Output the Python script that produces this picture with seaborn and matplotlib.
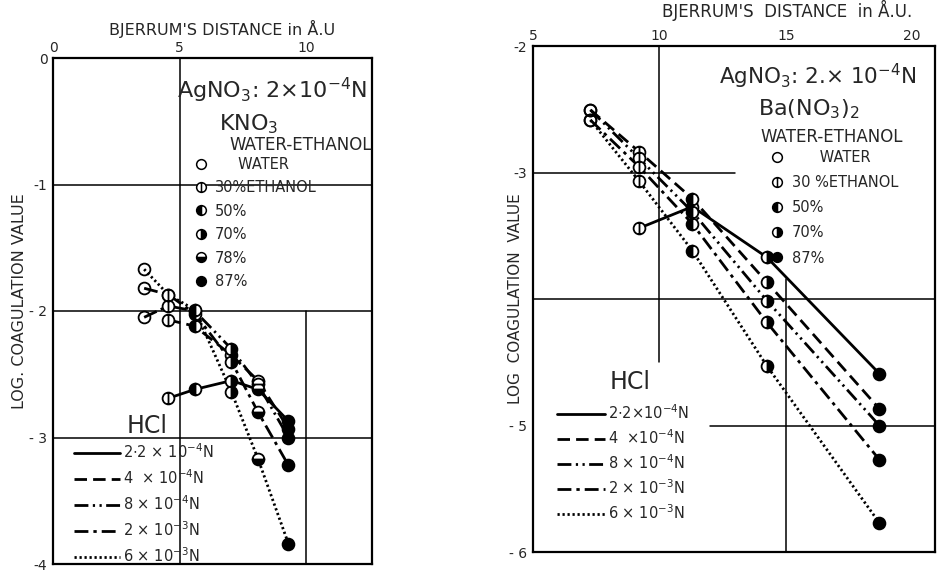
import numpy as np
import pandas as pd
import matplotlib
matplotlib.use("Agg")
import matplotlib.pyplot as plt
import seaborn as sns
from matplotlib.path import Path
from matplotlib.lines import Line2D

# ---------------- data ----------------
ethanol = ["WATER", "30%", "50%", "70%", "78%", "87%"]

# Left panel: AgNO3 2e-4 N, KNO3
kno3_x = [3.6, 4.55, 5.6, 7.05, 8.1, 9.3]
kno3_hcl_2_2e4 = [np.nan, -2.69, -2.62, -2.55, -2.62, -2.87]
kno3_hcl_4e4 = [np.nan, -2.07, -2.12, -2.35, -2.55, -2.93]
kno3_hcl_8e4 = [-2.05, -1.96, -2.00, -2.30, -2.58, -3.00]
kno3_hcl_2e3 = [-1.82, -1.87, -2.02, -2.40, -2.80, -3.22]
kno3_hcl_6e3 = [-1.67, -1.87, -1.99, -2.64, -3.17, -3.84]

# Right panel: AgNO3 2e-4 N, Ba(NO3)2
ba_ethanol = ["WATER", "30%", "50%", "70%", "87%"]
ba_x = [7.27, 9.2, 11.3, 14.25, 18.7]
ba_hcl_2_2e4 = [np.nan, -3.44, -3.27, -3.67, -4.59]
ba_hcl_4e4 = [-2.505, -2.836, -3.206, -3.867, -4.868]
ba_hcl_8e4 = [-2.505, -2.889, -3.31, -4.013, -5.00]
ba_hcl_2e3 = [-2.585, -2.955, -3.405, -4.185, -5.27]
ba_hcl_6e3 = [-2.585, -3.069, -3.617, -4.529, -5.77]

hcl_names = ["2.2e-4", "4e-4", "8e-4", "2e-3", "6e-3"]
hcl_labels_left = [r"2$\cdot$2 $\times$ 10$^{-4}$N", r"4  $\times$ 10$^{-4}$N",
                   r"8 $\times$ 10$^{-4}$N", r"2 $\times$ 10$^{-3}$N",
                   r"6 $\times$ 10$^{-3}$N"]
hcl_labels_right = [r"2$\cdot$2$\times$10$^{-4}$N", r"4  $\times$10$^{-4}$N",
                    r"8 $\times$ 10$^{-4}$N", r"2 $\times$ 10$^{-3}$N",
                    r"6 $\times$ 10$^{-3}$N"]

left_xticks = [0, 5, 10]
left_yticks = [0, -1, -2, -3, -4]
left_yticklabels = ["0", "-1", "- 2", "- 3", "-4"]
right_xticks = [5, 10, 15, 20]
right_yticks = [-2, -3, -4, -5, -6]
right_yticklabels = ["-2", "-3", "", "- 5", "- 6"]

# ---------------- styles ----------------
dashes = {"2.2e-4": "", "4e-4": (4.5, 2.2), "8e-4": (5, 1.6, 0.8, 1.6, 0.8, 1.6),
          "2e-3": (5, 1.8, 1.2, 1.8), "6e-3": (0.8, 1.0)}
ls_map = {"2.2e-4": "-", "4e-4": (0, (4.5, 2.2)), "8e-4": (0, (5, 1.6, 0.8, 1.6, 0.8, 1.6)),
          "2e-3": (0, (5, 1.8, 1.2, 1.8)), "6e-3": (0, (0.8, 1.0))}

circ = Path.unit_circle()
phi_path = Path(np.vstack([circ.vertices, [[0, -1], [0, 1]]]),
                np.concatenate([circ.codes, [Path.MOVETO, Path.LINETO]]))
marker_style = {
    "WATER": dict(marker="o", fillstyle="none", markerfacecolor="white"),
    "30%": dict(marker=phi_path, fillstyle="full", markerfacecolor="white"),
    "50%": dict(marker="o", fillstyle="left", markerfacecoloralt="white"),
    "70%": dict(marker="o", fillstyle="right", markerfacecoloralt="white"),
    "78%": dict(marker="o", fillstyle="bottom", markerfacecoloralt="white"),
    "87%": dict(marker="o", fillstyle="full"),
}


def long_df(xs, levels, series):
    rows = []
    for name, ys in zip(hcl_names, series):
        for x, lev, y in zip(xs, levels, ys):
            if not np.isnan(y):
                rows.append(dict(x=x, y=y, hcl=name, ethanol=lev))
    return pd.DataFrame(rows)


df_left = long_df(kno3_x, ethanol,
                  [kno3_hcl_2_2e4, kno3_hcl_4e4, kno3_hcl_8e4, kno3_hcl_2e3, kno3_hcl_6e3])
df_right = long_df(ba_x, ba_ethanol,
                   [ba_hcl_2_2e4, ba_hcl_4e4, ba_hcl_8e4, ba_hcl_2e3, ba_hcl_6e3])

sns.set_style("white")
plt.rcParams["font.family"] = ["DejaVu Sans"]

W, H = 943, 573
fig = plt.figure(figsize=(W / 100, H / 100), dpi=100)


def ax_at(l, t, r, b):
    return fig.add_axes([l / W, 1 - b / H, (r - l) / W, (b - t) / H])


axL = ax_at(53, 58, 372, 564)
axR = ax_at(533, 46, 935, 552)

LW = 2.0
MS = 8.5


def draw(ax, df):
    sns.lineplot(data=df, x="x", y="y", style="hcl", style_order=hcl_names,
                 dashes=dashes, color="black", linewidth=LW, estimator=None,
                 sort=False, legend=False, ax=ax)
    for lev, g in df.groupby("ethanol"):
        st = marker_style[lev]
        ax.plot(g["x"], g["y"], linestyle="none", color="black",
                markeredgecolor="black", markeredgewidth=1.3, markersize=MS,
                zorder=5, **st)


draw(axL, df_left)
draw(axR, df_right)

for ax in (axL, axR):
    for s in ax.spines.values():
        s.set_linewidth(1.6)
        s.set_color("black")
    ax.xaxis.tick_top()
    ax.xaxis.set_label_position("top")
    ax.tick_params(axis="y", length=0, labelsize=10, pad=4)
    ax.tick_params(axis="x", length=0, labelsize=10, pad=2)

# Left axes
axL.set_xlim(0, 12.6)
axL.set_ylim(-4, 0)
axL.set_xticks(left_xticks)
axL.set_xticklabels([str(v) for v in left_xticks])
axL.set_yticks(left_yticks)
axL.set_yticklabels(left_yticklabels)
for yv in (-1, -2, -3):
    axL.axhline(yv, color="black", lw=1.1, zorder=1)
axL.axvline(5, color="black", lw=1.1, zorder=1)
axL.axvline(10, ymin=0, ymax=0.5, color="black", lw=1.1, zorder=1)
axL.set_xlabel("BJERRUM'S DISTANCE in Å.U", fontsize=11.5)
axL.xaxis.set_label_coords(0.53, 1.045)
axL.set_ylabel("LOG. COAGULATION VALUE", fontsize=11.5)
axL.yaxis.set_label_coords(-0.082, 0.52)

# Right axes
axR.set_xlim(5, 20.9)
axR.set_ylim(-6, -2)
axR.set_xticks(right_xticks)
axR.set_xticklabels([str(v) for v in right_xticks])
axR.set_yticks(right_yticks)
axR.set_yticklabels(right_yticklabels)
axR.axhline(-3, xmin=0, xmax=0.503, color="black", lw=1.1, zorder=1)
axR.axhline(-4, color="black", lw=1.1, zorder=1)
axR.axhline(-5, xmin=0.44, xmax=1, color="black", lw=1.1, zorder=1)
axR.axvline(10, ymin=0.375, ymax=1, color="black", lw=1.1, zorder=1)
axR.axvline(15, ymin=0, ymax=0.54, color="black", lw=1.1, zorder=1)
axR.set_xlabel("BJERRUM'S  DISTANCE  in Å.U.", fontsize=12)
axR.xaxis.set_label_coords(0.632, 1.058)
axR.set_ylabel("LOG  COAGULATION  VALUE", fontsize=11)
axR.yaxis.set_label_coords(-0.025, 0.5)

# Headings
axL.text(0.985, 0.935, r"AgNO$_3$: 2$\times$10$^{-4}$N", transform=axL.transAxes,
         ha="right", va="center", fontsize=16)
axL.text(0.52, 0.87, r"KNO$_3$", transform=axL.transAxes,
         ha="left", va="center", fontsize=16)
axL.text(1.0, 0.828, "WATER-ETHANOL", transform=axL.transAxes,
         ha="right", va="center", fontsize=12)
axL.text(0.23, 0.272, "HCl", transform=axL.transAxes,
         ha="left", va="center", fontsize=17)

axR.text(0.955, 0.94, r"AgNO$_3$: 2.$\times$ 10$^{-4}$N", transform=axR.transAxes,
         ha="right", va="center", fontsize=15.5)
axR.text(0.56, 0.875, r"Ba(NO$_3$)$_2$", transform=axR.transAxes,
         ha="left", va="center", fontsize=16)
axR.text(0.565, 0.82, "WATER-ETHANOL", transform=axR.transAxes,
         ha="left", va="center", fontsize=12)
axR.text(0.19, 0.335, "HCl", transform=axR.transAxes,
         ha="left", va="center", fontsize=17)


def eth_handles(levels):
    hs = []
    for lev in levels:
        hs.append(Line2D([], [], linestyle="none", color="black",
                         markeredgecolor="black", markeredgewidth=1.1,
                         markersize=7, **marker_style[lev]))
    return hs


left_eth_labels = ["     WATER", "30%ETHANOL", "50%", "70%", "78%", "87%"]
legL1 = axL.legend(eth_handles(ethanol), left_eth_labels, loc="upper left",
                   bbox_to_anchor=(0.44, 0.805), frameon=False, fontsize=10.5,
                   handlelength=1.0, handletextpad=0.5, labelspacing=0.58,
                   borderaxespad=0, borderpad=0)
axL.add_artist(legL1)

right_eth_labels = ["      WATER", "30 %ETHANOL", "50%", "70%", "87%"]
legR1 = axR.legend(eth_handles(ba_ethanol), right_eth_labels, loc="upper left",
                   bbox_to_anchor=(0.59, 0.795), frameon=False, fontsize=10.5,
                   handlelength=1.0, handletextpad=0.5, labelspacing=0.7,
                   borderaxespad=0, borderpad=0)
axR.add_artist(legR1)


def hcl_handles():
    return [Line2D([], [], color="black", linewidth=LW, linestyle=ls_map[n])
            for n in hcl_names]


axL.legend(hcl_handles(), hcl_labels_left, loc="upper left",
           bbox_to_anchor=(0.065, 0.24), frameon=False, fontsize=10.5,
           handlelength=3.2, handletextpad=0.2, labelspacing=0.5,
           borderaxespad=0, borderpad=0)
axR.legend(hcl_handles(), hcl_labels_right, loc="upper left",
           bbox_to_anchor=(0.06, 0.293), frameon=False, fontsize=10.5,
           handlelength=3.3, handletextpad=0.2, labelspacing=0.42,
           borderaxespad=0, borderpad=0)

fig.savefig("out.png", dpi=100)
